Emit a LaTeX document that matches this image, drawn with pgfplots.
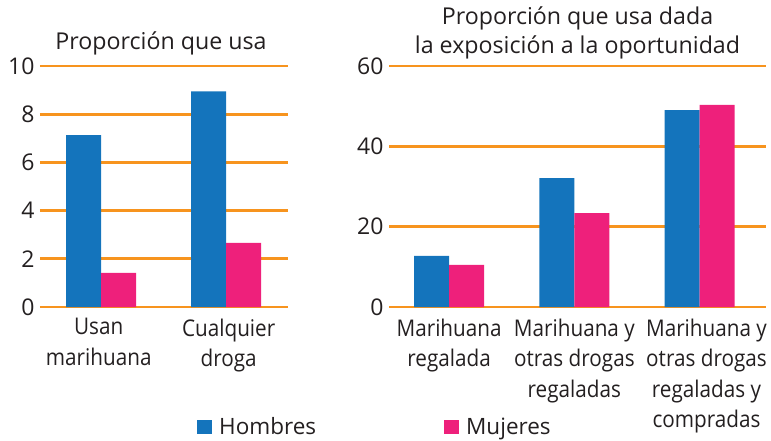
\documentclass[border=0pt]{standalone}
\usepackage{pgfplots}
\pgfplotsset{compat=1.18}
\usepackage{fontspec}
\setmainfont{Open Sans}
\newfontfamily\labelfont[FakeStretch=0.9]{Open Sans}
\definecolor{hblue}{RGB}{20,116,188}
\definecolor{mpink}{RGB}{238,32,123}
\definecolor{gorange}{RGB}{247,148,30}
\definecolor{txt}{RGB}{35,31,32}
\pgfplotsset{
  mybars/.style={
    scale only axis, height=241pt, ymin=0,
    ybar, bar width=0.28,
    axis line style={draw=none},
    major tick length=0pt,
    ymajorgrids, grid style={gorange, line width=2.8pt},
    /pgf/number format/assume math mode=true,
    y tick label style={font=\fontsize{23}{28}\selectfont, text=txt, xshift=-2pt},
    x tick label style={font=\labelfont\fontsize{23}{30.5}\selectfont, text=txt, align=center, anchor=north, yshift=-8pt},
    title style={font=\fontsize{23.2}{28.5}\selectfont, text=txt, align=center, anchor=south, inner sep=0pt},
    clip=false,
  },
  hstyle/.style={fill=hblue, draw=none, bar shift=-0.14,
    legend image code/.code={\fill[hblue] (0pt,-7pt) rectangle (15pt,7pt);}},
  mstyle/.style={fill=mpink, draw=none, bar shift=0.14,
    legend image code/.code={\fill[mpink] (0pt,-7pt) rectangle (15pt,7pt);}},
}
\begin{document}
\begin{tikzpicture}[x=1pt,y=1pt]
\useasboundingbox (0,0) rectangle (771,440);
\begin{axis}[mybars,
  at={(40pt,133pt)}, anchor=south west, width=248pt,
  xmin=-0.49, xmax=1.495, ymax=10,
  ytick={0,2,4,6,8,10},
  xtick={-0.02,1.02},
  xticklabels={{Usan\\marihuana},{Cualquier\\droga}},
  title={Proporción que usa},
  title style={yshift=5pt, xshift=-3pt},
  legend columns=2,
  legend cell align=left,
  legend style={at={(0.633,-0.497)}, anchor=west, draw=none, fill=none,
    font=\fontsize{22.5}{28}\selectfont, text=txt, inner sep=0pt,
    nodes={inner sep=2pt},
    /tikz/every odd column/.append style={column sep=5pt},
    /tikz/every even column/.append style={column sep=126pt}},
]
\addplot[hstyle] coordinates {(0,7.13) (1,8.95)};
\addplot[mstyle] coordinates {(0,1.42) (1,2.66)};
\legend{Hombres,Mujeres}
\end{axis}
\begin{axis}[mybars,
  at={(389pt,133pt)}, anchor=south west, width=377pt,
  xmin=-0.48, xmax=2.53, ymax=60,
  ytick={0,20,40,60},
  xtick={0,1,2.055},
  xticklabels={{Marihuana\\regalada},{Marihuana y\\otras drogas\\regaladas},{Marihuana y\\otras drogas\\regaladas y\\compradas}},
  title={Proporción que usa dada\\la exposición a la oportunidad},
  title style={yshift=1pt},
]
\addplot[hstyle] coordinates {(0,12.7) (1,32.1) (2,49.0)};
\addplot[mstyle] coordinates {(0,10.5) (1,23.4) (2,50.3)};
\end{axis}
\end{tikzpicture}
\end{document}
